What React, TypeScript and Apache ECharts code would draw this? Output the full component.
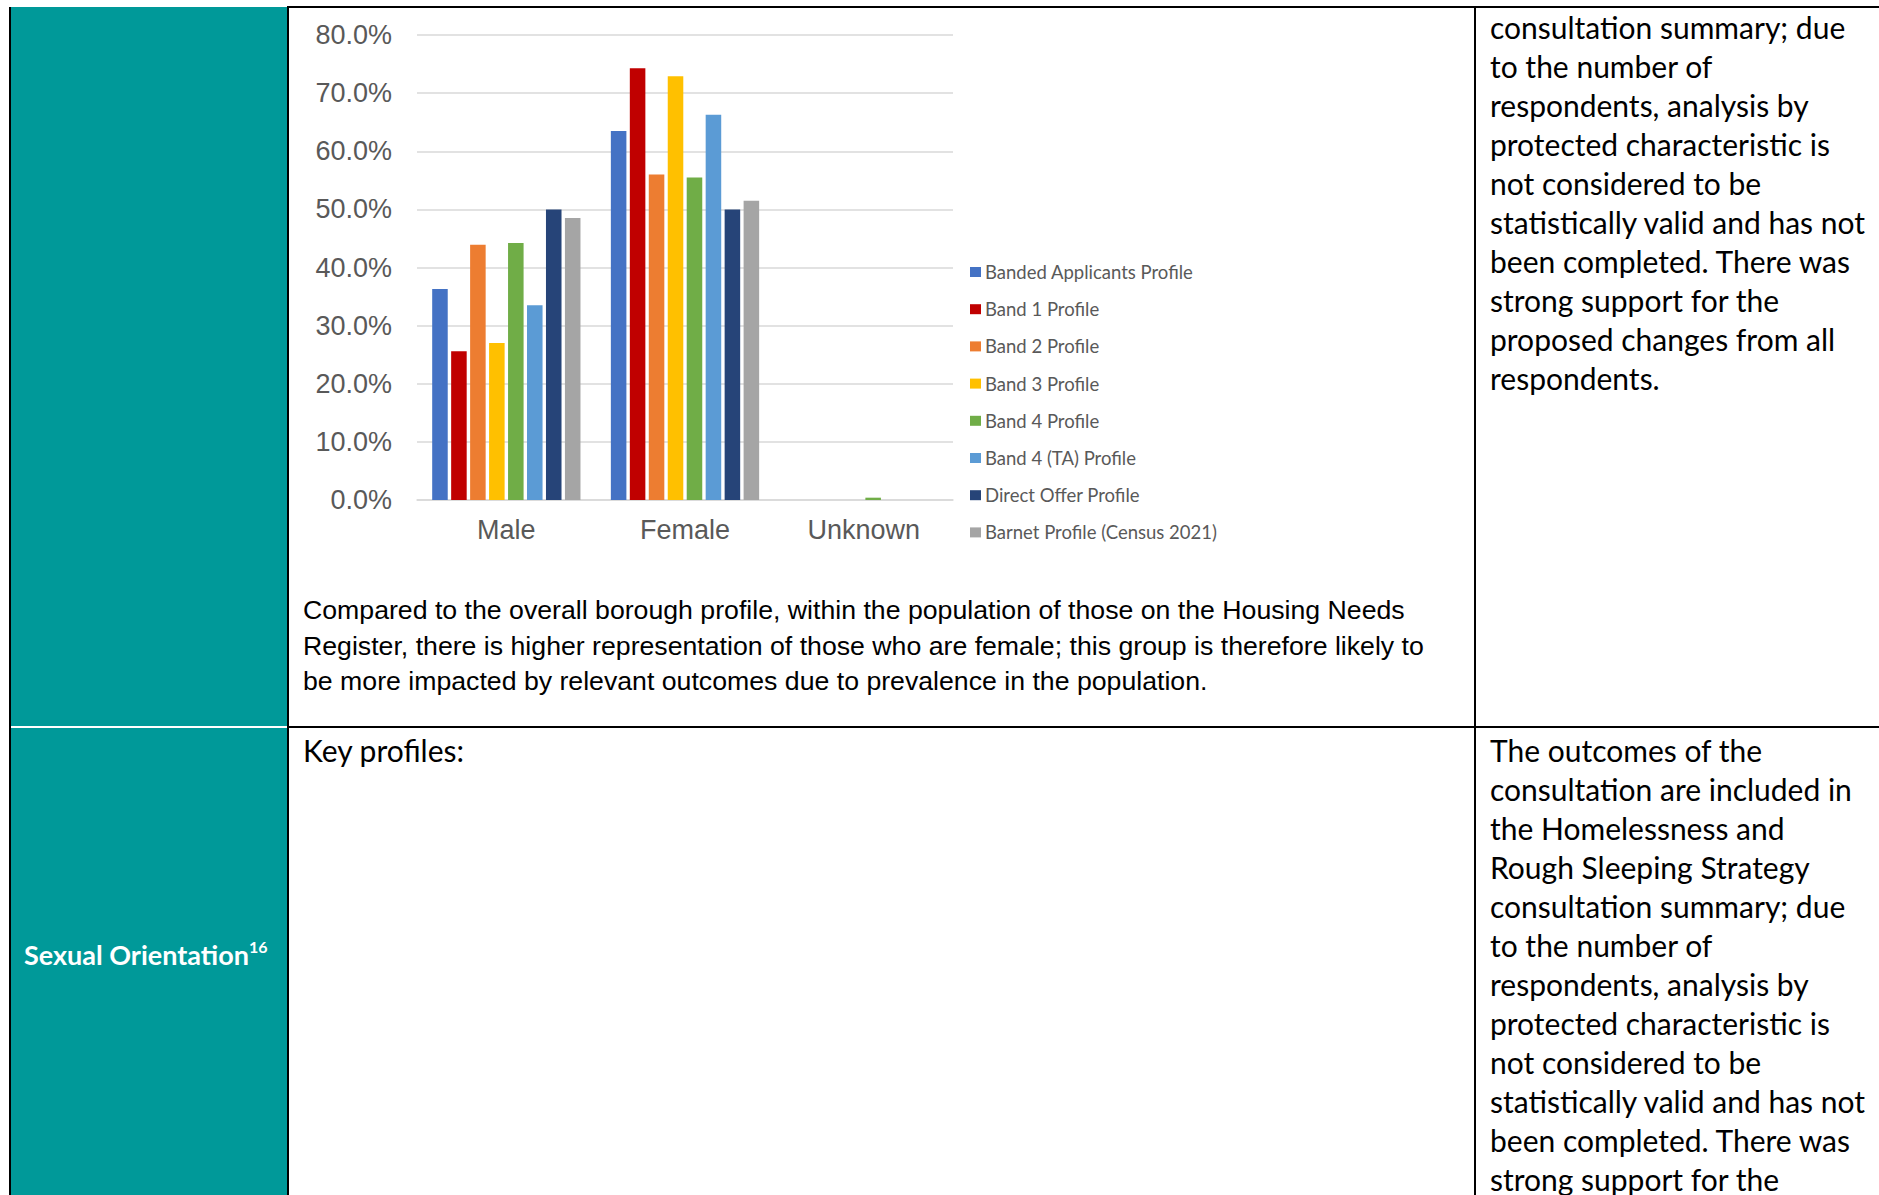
import React, { useEffect, useRef } from "react";
import * as echarts from "echarts";

const categories = ["Male", "Female", "Unknown"];
const seriesNames = [
  "Banded Applicants Profile",
  "Band 1 Profile",
  "Band 2 Profile",
  "Band 3 Profile",
  "Band 4 Profile",
  "Band 4 (TA) Profile",
  "Direct Offer Profile",
  "Barnet Profile (Census 2021)",
];
const bandedApplicants = [36.3, 63.5, 0];
const band1 = [25.6, 74.3, 0];
const band2 = [43.9, 56.0, 0];
const band3 = [27.0, 72.9, 0];
const band4 = [44.2, 55.5, 0.4];
const band4TA = [33.5, 66.3, 0];
const directOffer = [50.0, 50.0, 0];
const barnetCensus = [48.5, 51.5, 0];
const seriesValues = [bandedApplicants, band1, band2, band3, band4, band4TA, directOffer, barnetCensus];
const seriesColors = ["#4472C4", "#C00000", "#ED7D31", "#FFC000", "#70AD47", "#5B9BD5", "#264478", "#A5A5A5"];
const yTicks = { min: 0, max: 80, interval: 10 };

const paragraphLines = [
  "Compared to the overall borough profile, within the population of those on the Housing Needs",
  "Register, there is higher representation of those who are female; this group is therefore likely to",
  "be more impacted by relevant outcomes due to prevalence in the population.",
];
const rightTopLines = [
  "consultation summary; due",
  "to the number of",
  "respondents, analysis by",
  "protected characteristic is",
  "not considered to be",
  "statistically valid and has not",
  "been completed. There was",
  "strong support for the",
  "proposed changes from all",
  "respondents.",
];
const rightBottomLines = [
  "The outcomes of the",
  "consultation are included in",
  "the Homelessness and",
  "Rough Sleeping Strategy",
  "consultation summary; due",
  "to the number of",
  "respondents, analysis by",
  "protected characteristic is",
  "not considered to be",
  "statistically valid and has not",
  "been completed. There was",
  "strong support for the",
];

const BODY_FONT = "Lato, 'Open Sans', sans-serif";
const ARIAL = "'Liberation Sans', Arial, sans-serif";

function Chart() {
  const ref = useRef<HTMLDivElement>(null);
  useEffect(() => {
    if (!ref.current) return;
    const chart = echarts.init(ref.current, undefined, { renderer: "svg" });
    chart.setOption({
      animation: false,
      grid: { left: 129, top: 27, width: 536, height: 465, containLabel: false },
      legend: {
        orient: "vertical",
        left: 677,
        top: 249,
        itemWidth: 11,
        itemHeight: 10,
        itemGap: 17.2,
        icon: "rect",
        textStyle: { color: "#595959", fontFamily: BODY_FONT, fontSize: 18.5, lineHeight: 20, padding: [0, 0, 0, -1] },
        data: seriesNames,
      },
      xAxis: {
        type: "category",
        data: categories,
        axisLine: { show: true, lineStyle: { color: "#D9D9D9", width: 1.5 } },
        axisTick: { show: false },
        axisLabel: { color: "#595959", fontFamily: ARIAL, fontSize: 27, margin: 16 },
      },
      yAxis: {
        type: "value",
        min: yTicks.min,
        max: yTicks.max,
        interval: yTicks.interval,
        axisLine: { show: false },
        axisTick: { show: false },
        splitLine: { lineStyle: { color: "#D9D9D9", width: 1.5 } },
        axisLabel: {
          color: "#595959",
          fontFamily: ARIAL,
          fontSize: 27,
          margin: 25,
          formatter: (v: number) => v.toFixed(1) + "%",
        },
      },
      series: seriesNames.map((name, i) => ({
        name,
        type: "bar",
        data: seriesValues[i],
        itemStyle: { color: seriesColors[i] },
        barGap: "22%",
        barCategoryGap: "17%",
      })),
    });
    return () => chart.dispose();
  }, []);
  return <div ref={ref} style={{ position: "absolute", left: 288, top: 8, width: 1180, height: 570 }} />;
}

function Lines({ lines, left, firstCenter, step, font, size, color = "#000", scaleX = 1 }: any) {
  return (
    <>
      {lines.map((t: string, i: number) => (
        <div
          key={i}
          style={{
            position: "absolute",
            left,
            top: firstCenter + i * step - step / 2,
            height: step,
            lineHeight: step + "px",
            fontFamily: font,
            fontSize: size,
            color,
            whiteSpace: "nowrap",
            transform: `scaleX(${scaleX})`,
            transformOrigin: "0 0",
          }}
        >
          {t}
        </div>
      ))}
    </>
  );
}

export default function App() {
  return (
    <div style={{ position: "fixed", left: 0, top: 0, width: 1879, height: 1195, background: "#fff", overflow: "hidden" }}>
      {/* teal column */}
      <div style={{ position: "absolute", left: 11, top: 7, width: 276, height: 1200, background: "#009999" }} />
      {/* left border */}
      <div style={{ position: "absolute", left: 9, top: 7, width: 2, height: 1200, background: "#000" }} />
      {/* teal column right border */}
      <div style={{ position: "absolute", left: 287, top: 6, width: 2, height: 1200, background: "#000" }} />
      {/* white divider in teal */}
      <div style={{ position: "absolute", left: 11, top: 726, width: 276, height: 2, background: "#fff" }} />
      {/* top border */}
      <div style={{ position: "absolute", left: 287, top: 6, width: 1600, height: 2, background: "#000" }} />
      {/* row divider */}
      <div style={{ position: "absolute", left: 287, top: 726, width: 1600, height: 2, background: "#000" }} />
      {/* column divider */}
      <div style={{ position: "absolute", left: 1474, top: 6, width: 2, height: 1200, background: "#000" }} />

      <Chart />

      <Lines lines={paragraphLines} left={303} firstCenter={611} step={35.5} font={ARIAL} size={26.68} />
      <Lines lines={["Key profiles:"]} left={303} firstCenter={750} step={39} font={BODY_FONT} size={30} />
      <Lines lines={rightTopLines} left={1490} firstCenter={27.6} step={39} font={BODY_FONT} size={30} />
      <Lines lines={rightBottomLines} left={1490} firstCenter={750} step={39} font={BODY_FONT} size={30} />

      <div
        style={{
          position: "absolute",
          left: 24,
          top: 955 - 20,
          height: 40,
          lineHeight: "40px",
          fontFamily: BODY_FONT,
          fontWeight: 700,
          fontSize: 27,
          color: "#fff",
          whiteSpace: "nowrap",
        }}
      >
        Sexual Orientation
        <sup style={{ fontSize: 16, verticalAlign: "top", position: "relative", top: -8 }}>16</sup>
      </div>
    </div>
  );
}
